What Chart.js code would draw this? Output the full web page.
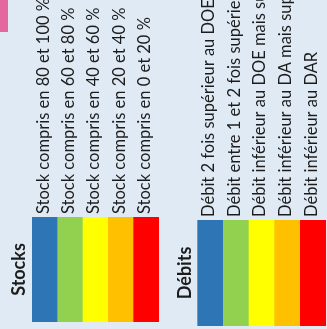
<!DOCTYPE html>
<html>
<head>
<meta charset="utf-8">
<script src="https://cdn.jsdelivr.net/npm/chart.js@4.4.0/dist/chart.umd.min.js"></script>
<style>
html, body { margin: 0; padding: 0; background: #dfeaf4; }
body { width: 327px; height: 329px; position: relative; overflow: hidden; }
#pink { position: absolute; left: 0; top: 0; width: 8px; height: 32px; background: #e4679f; }
canvas { position: absolute; top: 0; }
#stocks { left: 0; }
#debits { left: 165px; }
</style>
</head>
<body>
<div id="pink"></div>
<canvas id="stocks" width="165" height="329"></canvas>
<canvas id="debits" width="162" height="329"></canvas>
<script>
var groupTitles = ['Stocks', 'Débits'];
var stockLabels = [
    'Stock compris en 80 et 100 %',
    'Stock compris en 60 et 80 %',
    'Stock compris en 40 et 60 %',
    'Stock compris en 20 et 40 %',
    'Stock compris en 0 et 20 %'
];
var stockValues = [1, 1, 1, 1, 1];
var debitLabels = [
    'Débit 2 fois supérieur au DOE',
    'Débit entre 1 et 2 fois supérieur au DOE',
    'Débit inférieur au DOE mais supérieur au DA',
    'Débit inférieur au DA mais supérieur au DAR',
    'Débit inférieur au DAR'
];
var debitValues = [1, 1, 1, 1, 1];

var palette = ['#2e75b6', '#92d050', '#ffff00', '#ffc000', '#ff0000'];
var textColor = '#1c1c1c';

// bold group title drawn sideways in the first (empty) category
var groupTitle = {
    id: 'groupTitle',
    afterDatasetsDraw: function(chart, args, opts) {
        var c = chart.ctx;
        var x = chart.scales.x.getPixelForValue(0);
        var area = chart.chartArea;
        c.save();
        c.translate(x, (area.top + area.bottom) / 2);
        c.rotate(-Math.PI / 2);
        c.font = 'bold 18px Lato';
        c.fillStyle = textColor;
        c.textAlign = 'center';
        c.textBaseline = 'middle';
        c.fillText(opts.text, 0, 0);
        c.restore();
    }
};

function makeChart(id, title, labels, values, axisHeight, pad) {
    return new Chart(document.getElementById(id), {
        type: 'bar',
        data: {
            labels: [''].concat(labels),
            datasets: [{
                data: [null].concat(values),
                backgroundColor: ['transparent'].concat(palette),
                borderWidth: 0,
                barPercentage: 1,
                categoryPercentage: 1
            }]
        },
        options: {
            responsive: false,
            animation: false,
            layout: { padding: pad },
            plugins: {
                legend: { display: false },
                tooltip: { enabled: false },
                groupTitle: { text: title }
            },
            scales: {
                x: {
                    position: 'top',
                    grid: { display: false },
                    border: { display: false },
                    ticks: {
                        autoSkip: false,
                        minRotation: 90,
                        maxRotation: 90,
                        padding: -5,
                        labelOffset: 18,
                        color: textColor,
                        font: { family: 'Lato', size: 16.5 }
                    },
                    afterFit: function(scale) { scale.height = axisHeight; }
                },
                y: { display: false, min: 0, max: 1 }
            }
        },
        plugins: [groupTitle]
    });
}

makeChart('stocks', groupTitles[0], stockLabels, stockValues, 217, { left: 7, right: 6, bottom: 7, top: 0 });
makeChart('debits', groupTitles[1], debitLabels, debitValues, 220, { left: 7, right: 1, bottom: 3, top: 0 });
</script>
</body>
</html>
